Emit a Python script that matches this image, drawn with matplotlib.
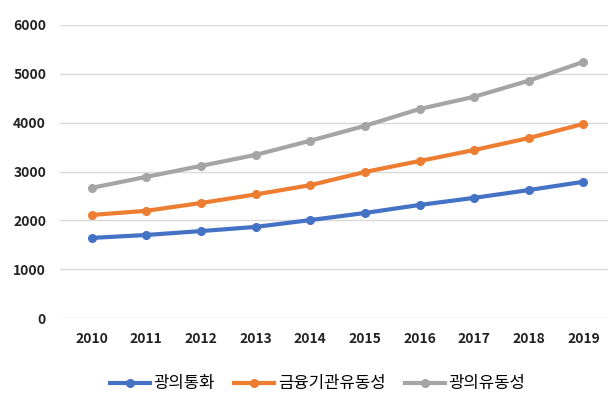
import matplotlib
matplotlib.use('Agg')
import matplotlib.pyplot as plt

years = ['2010', '2011', '2012', '2013', '2014', '2015', '2016', '2017', '2018', '2019']
m2 = [1640, 1700, 1780, 1865, 2005, 2150, 2315, 2460, 2620, 2790]
fin_liq = [2110, 2195, 2355, 2530, 2720, 2990, 3215, 3440, 3685, 3975]
broad_liq = [2665, 2890, 3115, 3340, 3630, 3935, 4280, 4530, 4860, 5245]
labels = ['광의통화', '금융기관유동성', '광의유동성']
colors = ['#4472C4', '#ED7D31', '#A5A5A5']

plt.rcParams['font.family'] = ['Noto Sans CJK KR', 'DejaVu Sans']

fig = plt.figure(figsize=(6.11, 4.01), dpi=100)
ax = fig.add_axes([60 / 611, 1 - 318 / 401, 548 / 611, 293 / 401])

x = list(range(len(years)))
for vals, lab, c in zip([m2, fin_liq, broad_liq], labels, colors):
    ax.plot(x, vals, color=c, linewidth=3, marker='o', markersize=5.5, label=lab)

ax.set_ylim(0, 6000)
ax.set_yticks(range(0, 6001, 1000))
ax.set_xlim(-0.58, 9.45)
ax.set_xticks(x)
ax.set_xticklabels(years)
ax.grid(axis='y', color='#d9d9d9', linewidth=1)
ax.set_axisbelow(True)
for s in ax.spines.values():
    s.set_visible(False)
ax.tick_params(length=0, labelsize=10, pad=10)
for t in ax.get_xticklabels() + ax.get_yticklabels():
    t.set_fontweight('bold')
    t.set_color('#222222')

ax.legend(loc='upper center', bbox_to_anchor=(0.47, -0.145), ncol=3, frameon=False,
          prop={'size': 12, 'weight': 'medium'}, handlelength=2.4,
          columnspacing=1.2, handletextpad=0.2)

fig.savefig('out.png', dpi=100)
